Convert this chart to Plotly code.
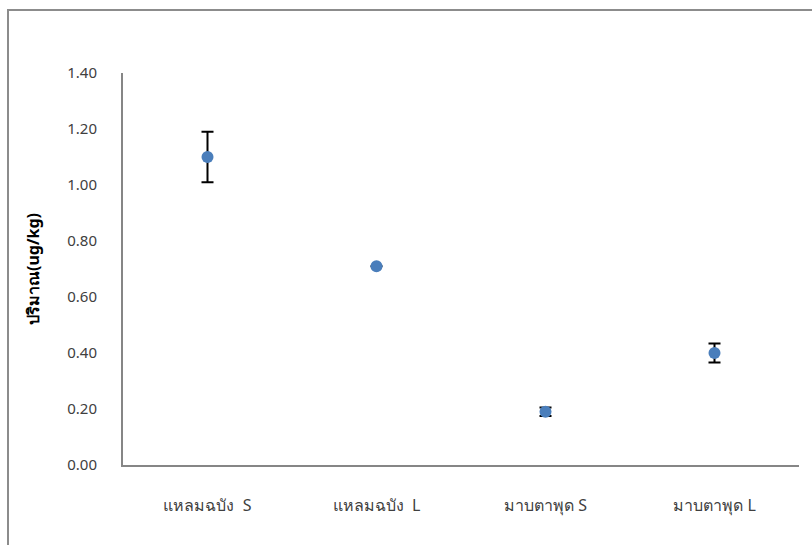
import plotly.graph_objects as go

# Sampling sites / size classes and measured amounts (ug/kg) with error bars
categories = ["แหลมฉบัง\u00a0\u00a0S", "แหลมฉบัง\u00a0\u00a0L", "มาบตาพุด S", "มาบตาพุด L"]
values = [1.10, 0.71, 0.19, 0.40]
errors = [0.09, 0.0, 0.015, 0.034]
y_ticks = [0.0, 0.2, 0.4, 0.6, 0.8, 1.0, 1.2, 1.4]

W, H = 812, 545
L, R, T, B = 123, 13, 73, 80
pw, ph = W - L - R, H - T - B

font_family = "Tahoma, 'Leelawadee UI', 'Noto Sans', 'DejaVu Sans', sans-serif"

fig = go.Figure(
    go.Scatter(
        x=categories,
        y=values,
        mode="markers",
        marker=dict(size=12, color="#4a7ebb", line=dict(width=0)),
        error_y=dict(type="data", array=errors, visible=True,
                     color="black", thickness=2, width=6),
        showlegend=False,
    )
)

fig.update_layout(
    width=W, height=H,
    margin=dict(l=L, r=R, t=T, b=B),
    paper_bgcolor="white",
    plot_bgcolor="white",
    font=dict(family=font_family, size=15, color="#404040"),
    xaxis=dict(
        type="category",
        range=[-0.5, 3.5],
        showline=True, linecolor="#868686", linewidth=2,
        showgrid=False, zeroline=False,
        ticks="", ticklabelstandoff=25,
        tickfont=dict(size=16, color="#404040"),
    ),
    yaxis=dict(
        range=[0, 1.4],
        tickvals=y_ticks,
        tickformat=".2f",
        showline=True, linecolor="#868686", linewidth=2,
        showgrid=False, zeroline=False,
        ticks="", ticklabelstandoff=21,
        tickfont=dict(size=15, color="#404040"),
        title=dict(text="<b>ปริมาณ(ug/kg)</b>", standoff=24,
                   font=dict(size=16, color="black")),
    ),
)

# Outer chart frame (extends past the right and bottom edges of the page)
fig.add_shape(
    type="rect", xref="paper", yref="paper",
    x0=(8 - L) / pw, x1=(W + 5 - L) / pw,
    y0=-(B + 5) / ph, y1=1 + (T - 10) / ph,
    line=dict(color="#8c8c8c", width=2),
    fillcolor="rgba(0,0,0,0)", layer="below",
)

fig.write_html("out.html")
